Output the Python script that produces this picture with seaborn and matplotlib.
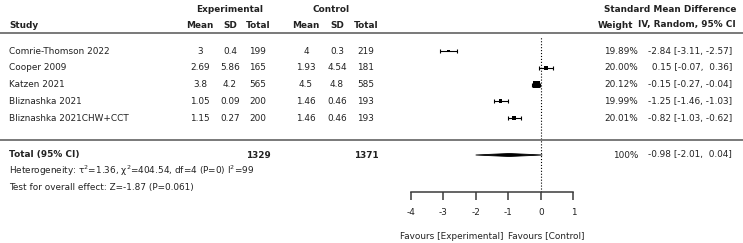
import matplotlib
matplotlib.use("Agg")
import matplotlib.pyplot as plt
import seaborn as sns
import numpy as np
import pandas as pd

# ---- data ----
studies = ["Comrie-Thomson 2022", "Cooper 2009", "Katzen 2021",
           "Bliznashka 2021", "Bliznashka 2021CHW+CCT"]
exp_mean = ["3", "2.69", "3.8", "1.05", "1.15"]
exp_sd = ["0.4", "5.86", "4.2", "0.09", "0.27"]
exp_n = [199, 165, 565, 200, 200]
ctl_mean = ["4", "1.93", "4.5", "1.46", "1.46"]
ctl_sd = ["0.3", "4.54", "4.8", "0.46", "0.46"]
ctl_n = [219, 181, 585, 193, 193]
weights = [19.89, 20.00, 20.12, 19.99, 20.01]
smd = [-2.84, 0.15, -0.15, -1.25, -0.82]
ci_lo = [-3.11, -0.07, -0.27, -1.46, -1.03]
ci_hi = [-2.57, 0.36, -0.04, -1.03, -0.62]

total_exp, total_ctl = 1329, 1371
pooled, pooled_lo, pooled_hi = -0.98, -2.01, 0.04
het_text = "Heterogeneity: τ$^2$=1.36, χ$^2$=404.54, df=4 (P=0) I$^2$=99"
overall_text = "Test for overall effect: Z=-1.87 (P=0.061)"
x_ticks = [-4, -3, -2, -1, 0, 1]

df = pd.DataFrame({"study": studies, "smd": smd, "lo": ci_lo, "hi": ci_hi})
df["row"] = np.arange(len(df))
# marker area from inverse variance of each CI
df["iv"] = 1.0 / ((df["hi"] - df["lo"]) / (2 * 1.96)) ** 2

sns.set_style("white")
plt.rcParams["font.family"] = ["DejaVu Sans"]
plt.rcParams["mathtext.fontset"] = "dejavusans"
plt.rcParams["axes.unicode_minus"] = False

W, H = 743, 243
fig = plt.figure(figsize=(W / 100, H / 100), dpi=100)
FS = 6.4
TXT = "#222222"


def put(x, y, s, ha="left", bold=False):
    fig.text(x / W, 1 - y / H, s, ha=ha, va="center", fontsize=FS,
             color=TXT, fontweight="bold" if bold else "normal")


ROW0, DROW = 51, 16.75
TOTAL_ROW = (155 - ROW0) / DROW


def row_px(r):
    return ROW0 + DROW * r


# column x positions (px)
c_emean, c_esd, c_en = 200, 230, 258
c_cmean, c_csd, c_cn = 306, 337, 366
c_weight, c_ci = 638, 732

# headers
put(230, 9, "Experimental", "center", True)
put(331, 9, "Control", "center", True)
put(736, 9, "Standard Mean Difference", "right", True)
put(9, 25, "Study", bold=True)
for x, s in [(c_emean, "Mean"), (c_esd, "SD"), (c_en, "Total"),
             (c_cmean, "Mean"), (c_csd, "SD"), (c_cn, "Total")]:
    put(x, 25, s, "center", True)
put(633, 25, "Weight", "right", True)
put(736, 25, "IV, Random, 95% CI", "right", True)

for y in (33.5, 140):
    fig.add_artist(plt.Line2D([0, 1], [1 - y / H] * 2, color="#6e6e6e",
                              lw=1.3, transform=fig.transFigure))

# study rows
for i in range(len(studies)):
    y = row_px(i)
    put(9, y, studies[i])
    put(c_emean, y, exp_mean[i], "center")
    put(c_esd, y, exp_sd[i], "center")
    put(c_en, y, str(exp_n[i]), "center")
    put(c_cmean, y, ctl_mean[i], "center")
    put(c_csd, y, ctl_sd[i], "center")
    put(c_cn, y, str(ctl_n[i]), "center")
    put(c_weight, y, f"{weights[i]:.2f}%", "right")
    put(c_ci, y, f"{smd[i]:5.2f} [{ci_lo[i]:5.2f}, {ci_hi[i]:5.2f}]", "right")

# total / summary rows
yt = row_px(TOTAL_ROW)
put(9, yt, "Total (95% CI)", bold=True)
put(c_en, yt, str(total_exp), "center", True)
put(c_cn, yt, str(total_ctl), "center", True)
put(c_weight, yt, "100%", "right")
put(c_ci, yt, f"{pooled:5.2f} [{pooled_lo:5.2f}, {pooled_hi:5.2f}]", "right")
put(9, 171, het_text)
put(9, 187, overall_text)

# ---- forest axes ----
x0, x1 = 411, 573.5
top, bot = 36, 192
ax = fig.add_axes([x0 / W, 1 - bot / H, (x1 - x0) / W, (bot - top) / H])
ax.set_facecolor("none")

ax.errorbar(df["smd"], df["row"],
            xerr=[df["smd"] - df["lo"], df["hi"] - df["smd"]],
            fmt="none", ecolor="black", elinewidth=0.8, capsize=1.6,
            capthick=0.8, zorder=2)
sns.scatterplot(data=df, x="smd", y="row", size="iv",
                sizes=(df["iv"].min() * 0.0876, df["iv"].max() * 0.0876),
                marker="s", color="black", edgecolor="black", linewidth=0,
                legend=False, ax=ax, zorder=3)

h = 0.09
ax.fill([pooled_lo, pooled, pooled_hi, pooled],
        [TOTAL_ROW, TOTAL_ROW - h, TOTAL_ROW, TOTAL_ROW + h],
        color="black", lw=0.6, zorder=3)

ax.axvline(0, ls=":", color="black", lw=0.8, zorder=1)

ax.set_xlim(x_ticks[0], x_ticks[-1])
ax.set_ylim((bot - ROW0) / DROW, (top - ROW0) / DROW)
ax.set_xticks(x_ticks)
ax.set_xticklabels([str(t) for t in x_ticks])
ax.set_yticks([])
ax.set_xlabel("")
ax.set_ylabel("")
for s in ("top", "left", "right"):
    ax.spines[s].set_visible(False)
ax.spines["bottom"].set_color("#3a3a3a")
ax.spines["bottom"].set_linewidth(1.1)
ax.tick_params(axis="x", direction="out", length=5.5, width=1.1,
               color="#3a3a3a", pad=6, labelsize=FS, labelcolor=TXT,
               bottom=True)

put(503, 236, "Favours [Experimental]", "right")
put(508, 236, "Favours [Control]", "left")

fig.savefig("out.png", dpi=100)
